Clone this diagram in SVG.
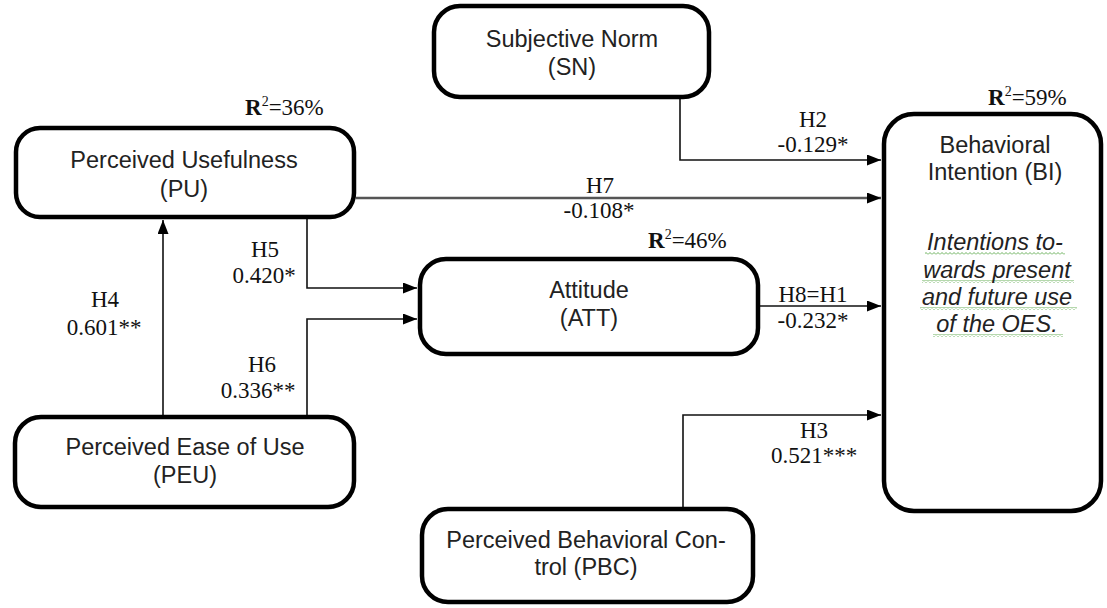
<svg xmlns="http://www.w3.org/2000/svg" width="1107" height="608" viewBox="0 0 1107 608">
  <style>
    .box { fill: #ffffff; stroke: #000000; stroke-width: 4.5; }
    .lbl { font-family: "Liberation Sans", Arial, sans-serif; font-size: 23.5px; fill: #222222; text-anchor: middle; }
    .ital { font-style: italic; }
    .coef { font-family: "Liberation Serif", "Times New Roman", serif; font-size: 23px; fill: #111111; text-anchor: middle; }
    .rsq { font-family: "Liberation Serif", "Times New Roman", serif; font-size: 23px; fill: #111111; }
    .link { fill: none; stroke: #111111; stroke-width: 1.6; marker-end: url(#arrow); }
    .link.main { stroke: #555555; stroke-width: 2.4; }
    .squiggle { fill: url(#wavy); }
  </style>
  <defs>
    <marker id="arrow" markerUnits="userSpaceOnUse" markerWidth="15" markerHeight="12" refX="14" refY="5.5" orient="auto">
      <path d="M0,0 L14,5.5 L0,11 Z" fill="#000000"/>
    </marker>
    <!-- spell-check style green wave used under the italic note -->
    <pattern id="wavy" patternUnits="userSpaceOnUse" width="4" height="3">
      <path d="M0,2.5 L2,0.5 L4,2.5" fill="none" stroke="#5aa84a" stroke-width="0.9"/>
    </pattern>
  </defs>

  <!-- connectors -->
  <g id="connectors">
    <path id="h2" class="link" d="M680,97 V160 H881"/>
    <path id="h7" class="link main" d="M356,198 H881"/>
    <path id="h5" class="link" d="M307,219 V288 H417"/>
    <path id="h6" class="link" d="M307,415 V319 H417"/>
    <path id="h4" class="link" d="M163,415 V220"/>
    <path id="h8" class="link" d="M760,306 H881"/>
    <path id="h3" class="link" d="M683,507 V415 H881"/>
  </g>

  <!-- path coefficients -->
  <g id="coefficients">
    <text class="coef" x="813" y="127">H2</text>
    <text class="coef" x="813" y="152">-0.129*</text>
    <text class="coef" x="600" y="193">H7</text>
    <text class="coef" x="599" y="218">-0.108*</text>
    <text class="coef" x="265" y="257">H5</text>
    <text class="coef" x="264" y="283">0.420*</text>
    <text class="coef" x="105" y="307">H4</text>
    <text class="coef" x="104" y="335">0.601**</text>
    <text class="coef" x="262" y="372">H6</text>
    <text class="coef" x="258" y="398">0.336**</text>
    <text class="coef" x="813" y="302">H8=H1</text>
    <text class="coef" x="813" y="328">-0.232*</text>
    <text class="coef" x="814" y="438">H3</text>
    <text class="coef" x="814" y="463">0.521***</text>
  </g>

  <!-- explained variance -->
  <g id="r-squared">
    <text class="rsq" x="245" y="115"><tspan font-weight="bold">R</tspan><tspan font-size="14" dy="-9">2</tspan><tspan dy="9">=36%</tspan></text>
    <text class="rsq" x="648" y="248"><tspan font-weight="bold">R</tspan><tspan font-size="14" dy="-9">2</tspan><tspan dy="9">=46%</tspan></text>
    <text class="rsq" x="988" y="105"><tspan font-weight="bold">R</tspan><tspan font-size="14" dy="-9">2</tspan><tspan dy="9">=59%</tspan></text>
  </g>

  <g id="sn">
    <rect class="box" x="434" y="6" width="275" height="91" rx="26"/>
    <text class="lbl" x="572" y="47">Subjective Norm</text>
    <text class="lbl" x="572" y="75">(SN)</text>
  </g>

  <g id="pu">
    <rect class="box" x="16" y="128" width="338" height="89" rx="24"/>
    <text class="lbl" x="184" y="168">Perceived Usefulness</text>
    <text class="lbl" x="184" y="197">(PU)</text>
  </g>

  <g id="att">
    <rect class="box" x="420" y="259" width="338" height="95" rx="26"/>
    <text class="lbl" x="589" y="298">Attitude</text>
    <text class="lbl" x="589" y="326">(ATT)</text>
  </g>

  <g id="peu">
    <rect class="box" x="15" y="417" width="339" height="90" rx="26"/>
    <text class="lbl" x="185" y="455">Perceived Ease of Use</text>
    <text class="lbl" x="185" y="483">(PEU)</text>
  </g>

  <g id="pbc">
    <rect class="box" x="422" y="509" width="331" height="93" rx="26"/>
    <text class="lbl" x="586" y="548">Perceived Behavioral Con-</text>
    <text class="lbl" x="586" y="575">trol (PBC)</text>
  </g>

  <g id="bi">
    <rect class="box" x="884" y="114" width="217" height="397" rx="30"/>
    <text class="lbl" x="995" y="153">Behavioral</text>
    <text class="lbl" x="995" y="180">Intention (BI)</text>
    <rect class="squiggle" x="925" y="252" width="140" height="3"/>
    <rect class="squiggle" x="922" y="280" width="152" height="3"/>
    <rect class="squiggle" x="920" y="307" width="157" height="3"/>
    <rect class="squiggle" x="933" y="334" width="130" height="3"/>
    <text class="lbl ital" x="995" y="250">Intentions to-</text>
    <text class="lbl ital" x="997" y="278">wards present</text>
    <text class="lbl ital" x="997" y="305">and future use</text>
    <text class="lbl ital" x="997" y="332">of the OES.</text>
  </g>
</svg>
